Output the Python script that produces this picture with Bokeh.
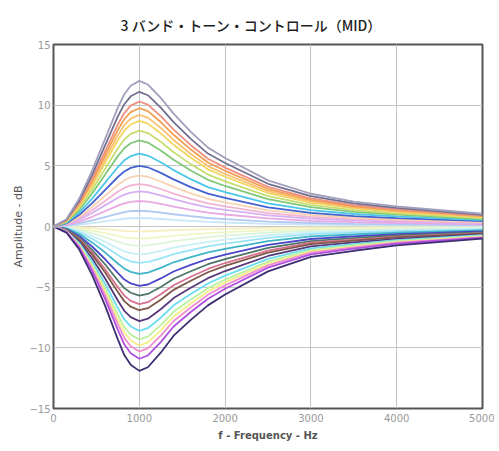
from bokeh.plotting import figure
from bokeh.models import Range1d, FixedTicker
from bokeh.embed import file_html
from bokeh.resources import INLINE

# ---- data (frequency in Hz, amplitude in dB) ----
freq_hz = [0, 150, 300, 450, 600, 750, 825, 900, 1000, 1100, 1250, 1400, 1600, 1800, 2000, 2500, 3000, 3500, 4000, 5000]

# boost curves (top to bottom)
boost_120 = [0, 0.6, 2.3, 4.6, 7.2, 9.8, 10.9, 11.6, 12.0, 11.7, 10.6, 9.3, 7.8, 6.5, 5.65, 3.8, 2.7, 2.05, 1.65, 1.05]
boost_111 = [0, 0.56, 2.13, 4.25, 6.66, 9.07, 10.08, 10.73, 11.1, 10.82, 9.8, 8.6, 7.22, 6.01, 5.23, 3.52, 2.5, 1.9, 1.53, 0.97]
boost_103 = [0, 0.52, 1.97, 3.95, 6.18, 8.41, 9.35, 9.96, 10.3, 10.04, 9.1, 7.98, 6.7, 5.58, 4.85, 3.26, 2.32, 1.76, 1.42, 0.9]
boost_098 = [0, 0.49, 1.87, 3.74, 5.85, 7.96, 8.85, 9.43, 9.75, 9.51, 8.61, 7.56, 6.34, 5.28, 4.59, 3.09, 2.19, 1.67, 1.34, 0.85]
boost_092 = [0, 0.46, 1.76, 3.53, 5.52, 7.51, 8.35, 8.89, 9.2, 8.97, 8.13, 7.13, 5.98, 4.98, 4.33, 2.91, 2.07, 1.57, 1.27, 0.81]
boost_087 = [0, 0.44, 1.67, 3.33, 5.22, 7.11, 7.9, 8.41, 8.7, 8.48, 7.68, 6.74, 5.66, 4.71, 4.1, 2.76, 1.96, 1.49, 1.2, 0.76]
boost_079 = [0, 0.4, 1.51, 3.03, 4.74, 6.45, 7.17, 7.64, 7.9, 7.7, 6.98, 6.12, 5.14, 4.28, 3.72, 2.5, 1.78, 1.35, 1.09, 0.69]
boost_071 = [0, 0.36, 1.36, 2.72, 4.26, 5.8, 6.45, 6.86, 7.1, 6.92, 6.27, 5.5, 4.62, 3.85, 3.34, 2.25, 1.6, 1.21, 0.98, 0.62]
boost_060 = [0, 0.3, 1.15, 2.3, 3.6, 4.9, 5.45, 5.8, 6.0, 5.85, 5.3, 4.65, 3.9, 3.25, 2.83, 1.9, 1.35, 1.03, 0.83, 0.53]
boost_050 = [0, 0.25, 0.96, 1.92, 3.0, 4.08, 4.54, 4.83, 5.0, 4.88, 4.42, 3.88, 3.25, 2.71, 2.35, 1.58, 1.13, 0.85, 0.69, 0.44]
boost_042 = [0, 0.21, 0.81, 1.61, 2.52, 3.43, 3.81, 4.06, 4.2, 4.1, 3.71, 3.26, 2.73, 2.28, 1.98, 1.33, 0.95, 0.72, 0.58, 0.37]
boost_035 = [0, 0.18, 0.67, 1.34, 2.1, 2.86, 3.18, 3.38, 3.5, 3.41, 3.09, 2.71, 2.28, 1.9, 1.65, 1.11, 0.79, 0.6, 0.48, 0.31]
boost_029 = [0, 0.15, 0.56, 1.11, 1.74, 2.37, 2.63, 2.8, 2.9, 2.83, 2.56, 2.25, 1.89, 1.57, 1.37, 0.92, 0.65, 0.5, 0.4, 0.25]
boost_021 = [0, 0.11, 0.4, 0.8, 1.26, 1.72, 1.91, 2.03, 2.1, 2.05, 1.86, 1.63, 1.37, 1.14, 0.99, 0.67, 0.47, 0.36, 0.29, 0.18]
boost_013 = [0, 0.07, 0.25, 0.5, 0.78, 1.06, 1.18, 1.26, 1.3, 1.27, 1.15, 1.01, 0.85, 0.7, 0.61, 0.41, 0.29, 0.22, 0.18, 0.11]
boost_007 = [0, 0.04, 0.13, 0.27, 0.42, 0.57, 0.64, 0.68, 0.7, 0.68, 0.62, 0.54, 0.46, 0.38, 0.33, 0.22, 0.16, 0.12, 0.1, 0.06]

# cut curves (top to bottom)
cut_004 = [0, -0.02, -0.06, -0.13, -0.22, -0.31, -0.36, -0.38, -0.4, -0.39, -0.35, -0.3, -0.26, -0.22, -0.19, -0.12, -0.08, -0.07, -0.05, -0.03]
cut_010 = [0, -0.04, -0.16, -0.34, -0.55, -0.78, -0.89, -0.96, -1.0, -0.97, -0.87, -0.76, -0.65, -0.55, -0.47, -0.31, -0.21, -0.17, -0.13, -0.08]
cut_016 = [0, -0.07, -0.26, -0.54, -0.87, -1.25, -1.43, -1.53, -1.6, -1.56, -1.4, -1.21, -1.04, -0.87, -0.75, -0.5, -0.34, -0.27, -0.21, -0.13]
cut_023 = [0, -0.1, -0.37, -0.77, -1.26, -1.8, -2.05, -2.2, -2.3, -2.24, -2.01, -1.74, -1.49, -1.26, -1.08, -0.72, -0.48, -0.39, -0.3, -0.19]
cut_030 = [0, -0.13, -0.48, -1.01, -1.64, -2.34, -2.67, -2.87, -3.0, -2.92, -2.62, -2.27, -1.94, -1.64, -1.41, -0.93, -0.63, -0.5, -0.39, -0.25]
cut_039 = [0, -0.16, -0.62, -1.31, -2.13, -3.05, -3.47, -3.74, -3.9, -3.8, -3.41, -2.95, -2.52, -2.13, -1.84, -1.21, -0.82, -0.66, -0.51, -0.33]
cut_049 = [0, -0.21, -0.78, -1.65, -2.68, -3.83, -4.37, -4.69, -4.9, -4.78, -4.28, -3.71, -3.17, -2.68, -2.31, -1.52, -1.03, -0.82, -0.64, -0.41]
cut_057 = [0, -0.24, -0.91, -1.92, -3.11, -4.45, -5.08, -5.46, -5.7, -5.56, -4.98, -4.31, -3.69, -3.11, -2.68, -1.77, -1.2, -0.96, -0.74, -0.48]
cut_064 = [0, -0.27, -1.02, -2.15, -3.5, -5.0, -5.7, -6.13, -6.4, -6.24, -5.59, -4.84, -4.14, -3.5, -3.01, -1.99, -1.34, -1.08, -0.83, -0.54]
cut_069 = [0, -0.29, -1.1, -2.32, -3.77, -5.39, -6.15, -6.61, -6.9, -6.73, -6.03, -5.22, -4.47, -3.77, -3.25, -2.15, -1.45, -1.16, -0.9, -0.58]
cut_078 = [0, -0.33, -1.25, -2.62, -4.26, -6.1, -6.95, -7.47, -7.8, -7.6, -6.82, -5.9, -5.05, -4.26, -3.67, -2.43, -1.64, -1.31, -1.02, -0.66]
cut_086 = [0, -0.36, -1.37, -2.89, -4.7, -6.72, -7.66, -8.24, -8.6, -8.38, -7.52, -6.5, -5.57, -4.7, -4.05, -2.67, -1.81, -1.45, -1.12, -0.72]
cut_093 = [0, -0.39, -1.49, -3.13, -5.08, -7.27, -8.29, -8.91, -9.3, -9.07, -8.13, -7.03, -6.02, -5.08, -4.38, -2.89, -1.95, -1.56, -1.21, -0.78]
cut_098 = [0, -0.41, -1.57, -3.29, -5.35, -7.66, -8.73, -9.39, -9.8, -9.55, -8.56, -7.41, -6.34, -5.35, -4.61, -3.05, -2.06, -1.65, -1.28, -0.82]
cut_103 = [0, -0.43, -1.64, -3.46, -5.63, -8.05, -9.18, -9.87, -10.3, -10.04, -9.0, -7.79, -6.67, -5.63, -4.85, -3.2, -2.16, -1.73, -1.34, -0.87]
cut_109 = [0, -0.46, -1.74, -3.66, -5.95, -8.52, -9.71, -10.44, -10.9, -10.63, -9.53, -8.24, -7.05, -5.95, -5.13, -3.39, -2.29, -1.83, -1.42, -0.92]
cut_119 = [0, -0.5, -1.9, -4.0, -6.5, -9.3, -10.6, -11.4, -11.9, -11.6, -10.4, -9.0, -7.7, -6.5, -5.6, -3.7, -2.5, -2.0, -1.55, -1.0]

x_ticks = [0, 1000, 2000, 3000, 4000, 5000]
y_ticks = [-15, -10, -5, 0, 5, 10, 15]

title_text = "3 バンド・トーン・コントロール（MID）"
x_label = "f - Frequency - Hz"
y_label = "Amplitude - dB"

curves = [
    (cut_004, "#f6eec0"), (cut_010, "#eef6c4"), (cut_016, "#dcf4d8"), (cut_023, "#c8f0f6"),
    (cut_030, "#98e4f6"), (cut_039, "#40b4c8"), (cut_049, "#4a48c8"), (cut_057, "#4e7666"),
    (cut_064, "#d87090"), (cut_069, "#7e5848"), (cut_078, "#56387a"), (cut_086, "#6cdcf0"),
    (cut_093, "#bcf0a0"), (cut_098, "#f4ee88"), (cut_103, "#f08cd0"), (cut_109, "#b050e0"),
    (cut_119, "#3e2e72"),
    (boost_007, "#c8e6f8"), (boost_013, "#b0c8f2"), (boost_021, "#e8a8e4"), (boost_029, "#d6b0f2"),
    (boost_035, "#f2b4d2"), (boost_042, "#f8d2b2"), (boost_050, "#4462d0"), (boost_060, "#4cc6e8"),
    (boost_071, "#80c878"), (boost_079, "#c6de70"), (boost_087, "#f2d660"), (boost_092, "#f8c070"),
    (boost_098, "#f0a050"), (boost_103, "#f09080"), (boost_111, "#707090"), (boost_120, "#a0a0bc"),
]

p = figure(width=494, height=448, output_backend="svg", toolbar_location=None,
           x_range=Range1d(0, 5000), y_range=Range1d(-15, 15),
           min_border_left=53, min_border_right=12, min_border_top=44, min_border_bottom=40)

for ys, col in curves:
    p.line(freq_hz, ys, line_color=col, line_width=1.8)

p.title.text = title_text
p.title.align = "left"
p.title.offset = 67
p.title.text_font = "Noto Sans CJK JP Medium"
p.title.text_font_size = "14px"
p.title.text_font_style = "normal"
p.title.text_color = "#1e1e1e"
p.title.standoff = 19

p.outline_line_color = "#555555"
p.outline_line_width = 2
p.background_fill_color = "white"
p.border_fill_color = "white"

p.xaxis.ticker = FixedTicker(ticks=x_ticks)
p.yaxis.ticker = FixedTicker(ticks=y_ticks)
for ax in (p.xaxis[0], p.yaxis[0]):
    ax.axis_line_color = None
    ax.major_tick_line_color = None
    ax.minor_tick_line_color = None
    ax.major_tick_out = 0
    ax.major_tick_in = 0
    ax.minor_tick_out = 0
    ax.minor_tick_in = 0
    ax.major_label_text_font = "DejaVu Sans"
    ax.major_label_text_font_size = "10px"
    ax.major_label_text_color = "#999999"
    ax.axis_label_text_font = "DejaVu Sans"
    ax.axis_label_text_color = "#555555"
    ax.major_label_standoff = 5
    ax.axis_label_standoff = 5

p.xaxis.axis_label = x_label
p.xaxis.axis_label_text_font_size = "10px"
p.xaxis.axis_label_text_font_style = "bold"
p.yaxis.axis_label = y_label
p.yaxis.axis_label_text_font_size = "11px"
p.yaxis.axis_label_text_font_style = "normal"
p.yaxis.axis_label_standoff = 1
p.yaxis.major_label_standoff = 3

p.xgrid.grid_line_color = "#c4c4c4"
p.ygrid.grid_line_color = "#c4c4c4"
p.xgrid.grid_line_width = 1
p.ygrid.grid_line_width = 1

open("out.html", "w").write(file_html(p, INLINE))
